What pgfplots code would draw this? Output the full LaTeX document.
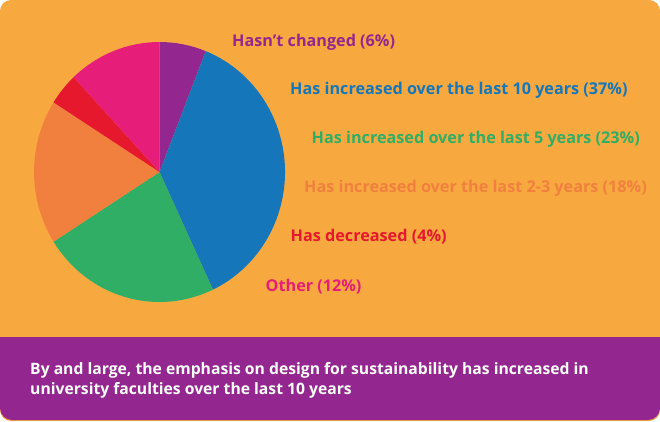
\documentclass[border=0pt]{standalone}
\usepackage{fontspec}
\setmainfont{Open Sans}
\usepackage{pgfplots}
\pgfplotsset{compat=1.18}
\definecolor{bgorange}{HTML}{F7A940}
\definecolor{cpurple}{HTML}{93278F}
\definecolor{cblue}{HTML}{1577BA}
\definecolor{cgreen}{HTML}{31AE65}
\definecolor{corange}{HTML}{F1803F}
\definecolor{cred}{HTML}{E5182D}
\definecolor{cpink}{HTML}{E61E79}
% pie centre (axis units) and radii
\def\cx{159.5}\def\cy{249}
\newcommand\slice[3]{% cumulative start %, cumulative end %, colour
  \fill[#3] (axis cs:\cx,\cy) -- ++({90-3.6*#1}:125.5pt and 130pt)
    arc[start angle={90-3.6*#1}, end angle={90-3.6*#2}, x radius=125.5pt, y radius=130pt] -- cycle;}
\begin{document}
\begin{tikzpicture}
\begin{axis}[
  hide axis, clip=false,
  x=1pt, y=1pt, scale only axis,
  xmin=0, xmax=660, ymin=0, ymax=421,
]
\fill[bgorange, rounded corners=11pt] (axis cs:0,0) rectangle (axis cs:660,421);
\fill[cpurple, rounded corners=12pt] (axis cs:0,1) -- (axis cs:0,84) -- (axis cs:660,84) -- (axis cs:660,1) -- cycle;
\fill[cpurple] (axis cs:0,40) rectangle (axis cs:660,84);
% shares: 6, 37, 23, 18, 4, 12 (%)
\slice{0}{6}{cpurple}
\slice{6}{43}{cblue}
\slice{43}{66}{cgreen}
\slice{66}{84}{corange}
\slice{84}{88}{cred}
\slice{88}{100}{cpink}
\begin{scope}[every node/.style={anchor=base west, inner sep=0pt, font=\fontsize{16.2}{19}\selectfont\bfseries}]
\node[text=cpurple] at (axis cs:232,374.5) {Hasn’t changed (6\%)};
\node[text=cblue] at (axis cs:290,326.5) {Has increased over the last 10 years (37\%)};
\node[text=cgreen] at (axis cs:311.5,277.5) {Has increased over the last 5 years (23\%)};
\node[text=corange] at (axis cs:304,228.5) {Has increased over the last 2-3 years (18\%)};
\node[text=cred] at (axis cs:290.5,179.5) {Has decreased (4\%)};
\node[text=cpink] at (axis cs:265.5,129.5) {Other (12\%)};
\end{scope}
\begin{scope}[every node/.style={anchor=base west, inner sep=0pt, font=\fontsize{15.7}{19}\selectfont\bfseries}]
\node[text=white] at (axis cs:30,47) {By and large, the emphasis on design for sustainability has increased in};
\node[text=white] at (axis cs:30,27) {university faculties over the last 10 years};
\end{scope}
\end{axis}
\end{tikzpicture}
\end{document}
